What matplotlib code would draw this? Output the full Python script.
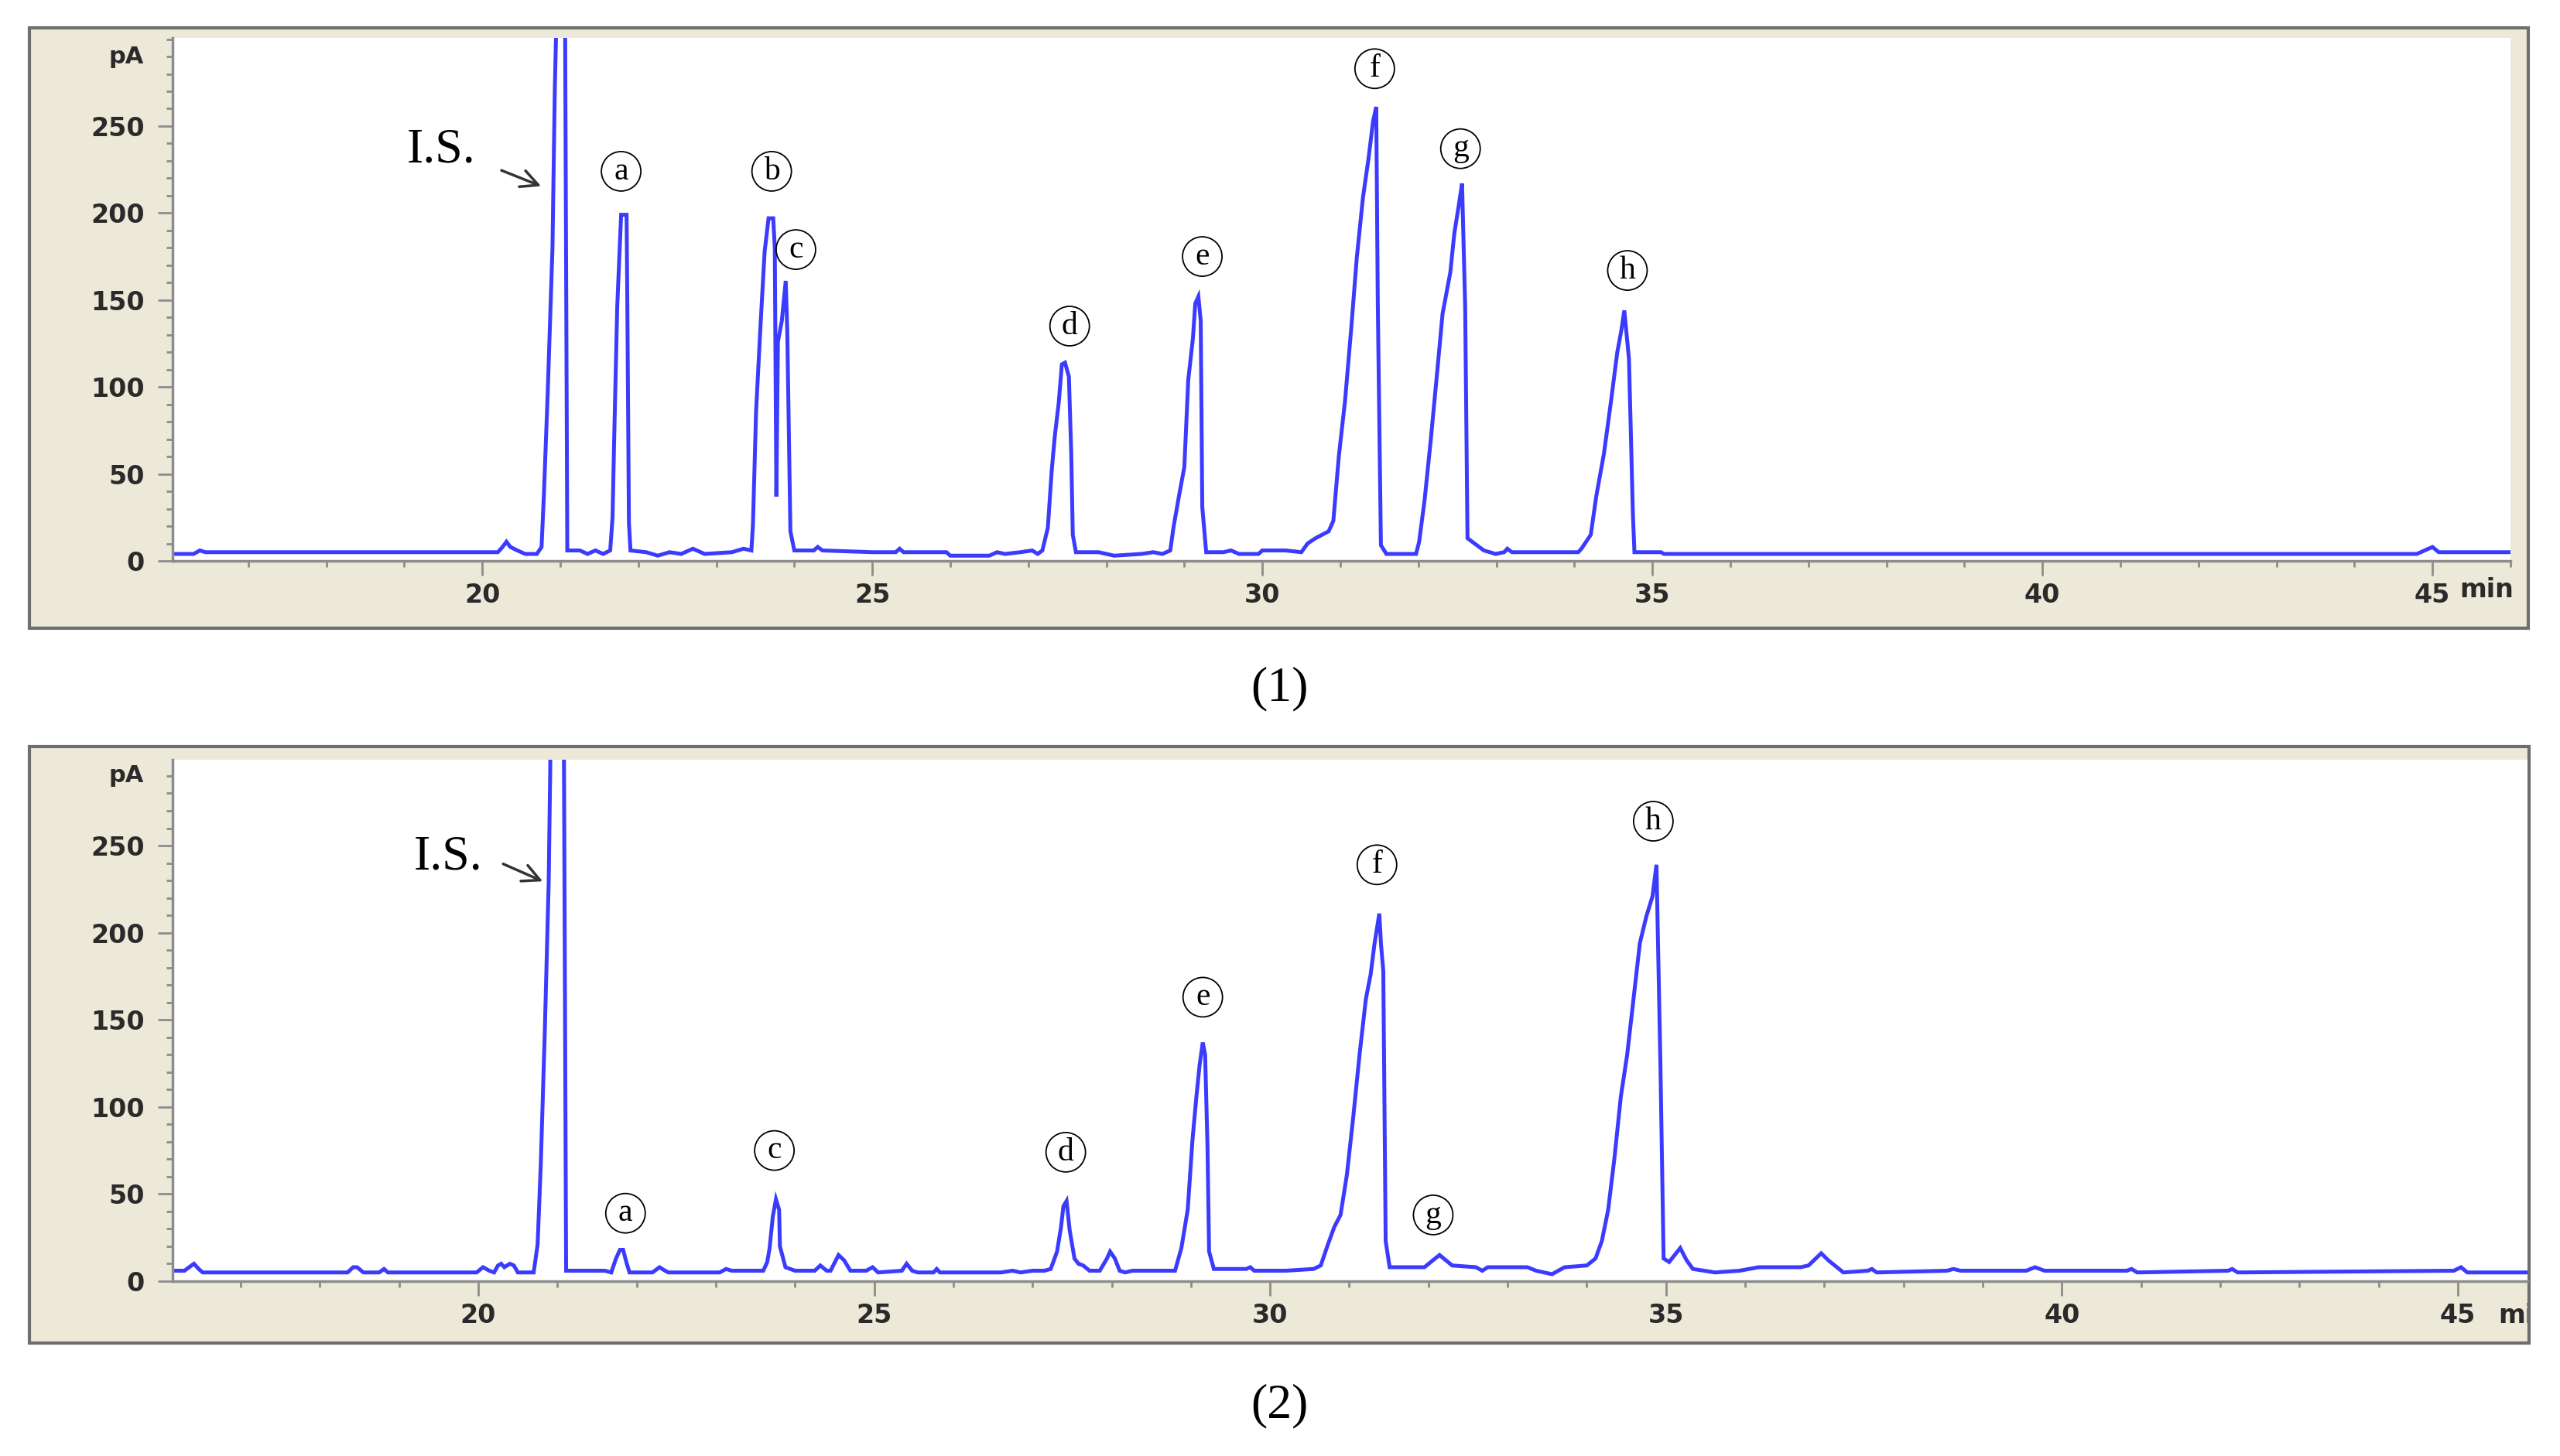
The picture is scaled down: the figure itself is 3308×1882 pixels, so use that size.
"""
Two GC chromatograms (standard mix and sample) redrawn in the instrument style.
"""
import matplotlib.pyplot as plt
from matplotlib.patches import Rectangle
from matplotlib.ticker import MultipleLocator
from matplotlib.transforms import Bbox, TransformedBbox

W, H = 3308, 1882
TRACE = "#3b3bff"
BEIGE = "#ECE9D8"
SERIF = "Liberation Serif"

## Panel (1): retention time (min) and signal (pA)
t1 = [16.03, 16.30, 16.38, 16.45, 17.40, 19.90, 20.20, 20.26, 20.31, 20.36, 20.45, 20.55,
      20.70, 20.76, 20.79, 20.84, 20.90, 20.93, 20.96, 21.06, 21.09, 21.25, 21.35, 21.45,
      21.55, 21.64, 21.67, 21.69, 21.73, 21.78, 21.85, 21.86, 21.88, 21.90, 22.10, 22.25,
      22.40, 22.55, 22.70, 22.85, 23.20, 23.35, 23.45, 23.47, 23.51, 23.57, 23.62, 23.67,
      23.73, 23.75, 23.77, 23.79, 23.84, 23.89, 23.91, 23.95, 24.00, 24.25, 24.30, 24.36,
      25.00, 25.30, 25.35, 25.40, 25.95, 26.00, 26.50, 26.60, 26.70, 26.90, 27.05, 27.12,
      27.18, 27.25, 27.30, 27.34, 27.39, 27.43, 27.47, 27.52, 27.55, 27.57, 27.61, 27.90,
      28.00, 28.10, 28.45, 28.60, 28.72, 28.82, 28.86, 28.93, 29.00, 29.05, 29.11, 29.14,
      29.18, 29.21, 29.23, 29.28, 29.50, 29.60, 29.70, 29.95, 30.00, 30.30, 30.50, 30.58,
      30.68, 30.85, 30.91, 30.98, 31.06, 31.14, 31.21, 31.29, 31.36, 31.42, 31.46, 31.48,
      31.52, 31.59, 31.97, 32.01, 32.08, 32.16, 32.24, 32.31, 32.41, 32.46, 32.52, 32.56,
      32.60, 32.63, 32.69, 32.84, 32.99, 33.10, 33.14, 33.20, 33.60, 34.05, 34.09, 34.21,
      34.28, 34.38, 34.47, 34.55, 34.60, 34.64, 34.70, 34.75, 34.77, 35.11, 35.15, 44.80,
      44.95, 45.00, 45.08, 46.00]
s1 = [4, 4, 6, 5, 5, 5, 5, 8, 11, 8, 6, 4,
      4, 8, 38, 98, 180, 271, 330, 330, 6, 6, 4, 6,
      4, 6, 25, 68, 146, 199, 199, 146, 22, 6, 5, 3,
      5, 4, 7, 4, 5, 7, 6, 21, 86, 138, 178, 197,
      197, 180, 37, 126, 138, 161, 132, 17, 6, 6, 8, 6,
      5, 5, 7, 5, 5, 3, 3, 5, 4, 5, 6, 4,
      6, 19, 52, 72, 91, 113, 114, 106, 62, 15, 5, 5,
      4, 3, 4, 5, 4, 6, 19, 37, 54, 104, 128, 148,
      152, 138, 31, 5, 5, 6, 4, 4, 6, 6, 5, 10,
      13, 17, 23, 60, 92, 134, 174, 209, 231, 253, 261, 148,
      9, 4, 4, 11, 35, 70, 108, 142, 166, 188, 205, 217,
      146, 13, 11, 6, 4, 5, 7, 5, 5, 5, 7, 15,
      37, 62, 92, 120, 132, 144, 116, 27, 5, 5, 4, 4,
      7, 8, 5, 5]

## Panel (2)
t2 = [16.14, 16.29, 16.38, 16.41, 16.47, 16.52, 18.35, 18.42, 18.47, 18.55, 18.75, 18.81,
      18.86, 19.98, 20.06, 20.14, 20.20, 20.25, 20.29, 20.33, 20.40, 20.45, 20.50, 20.70,
      20.75, 20.79, 20.84, 20.89, 20.92, 21.08, 21.11, 21.60, 21.68, 21.74, 21.79, 21.83,
      21.87, 21.91, 22.20, 22.29, 22.36, 22.40, 23.05, 23.13, 23.20, 23.60, 23.65, 23.68,
      23.72, 23.76, 23.80, 23.81, 23.88, 24.00, 24.25, 24.32, 24.40, 24.45, 24.55, 24.62,
      24.70, 24.90, 24.98, 25.05, 25.35, 25.41, 25.48, 25.55, 25.75, 25.79, 25.83, 26.60,
      26.75, 26.85, 27.00, 27.15, 27.23, 27.31, 27.36, 27.39, 27.43, 27.47, 27.53, 27.58,
      27.64, 27.72, 27.85, 27.94, 27.98, 28.04, 28.10, 28.17, 28.26, 28.80, 28.88, 28.96,
      29.02, 29.07, 29.11, 29.15, 29.18, 29.21, 29.23, 29.29, 29.70, 29.75, 29.80, 30.20,
      30.55, 30.64, 30.73, 30.81, 30.89, 30.97, 31.05, 31.13, 31.21, 31.27, 31.32, 31.38,
      31.40, 31.43, 31.46, 31.51, 31.95, 32.03, 32.14, 32.22, 32.30, 32.60, 32.68, 32.75,
      33.25, 33.36, 33.56, 33.72, 34.00, 34.11, 34.19, 34.27, 34.35, 34.43, 34.51, 34.59,
      34.67, 34.75, 34.83, 34.88, 34.93, 34.97, 35.04, 35.18, 35.26, 35.34, 35.62, 35.93,
      36.17, 36.57, 36.70, 36.80, 36.96, 37.05, 37.24, 37.55, 37.60, 37.66, 38.55, 38.63,
      38.72, 39.55, 39.66, 39.78, 40.82, 40.88, 40.95, 42.10, 42.15, 42.22, 44.95, 45.04,
      45.12, 45.88]
s2 = [6, 6, 9, 10, 7, 5, 5, 8, 8, 5, 5, 7,
      5, 5, 8, 6, 5, 9, 10, 8, 10, 9, 5, 5,
      21, 67, 142, 229, 330, 330, 6, 6, 5, 13, 18, 18,
      11, 5, 5, 8, 6, 5, 5, 7, 6, 6, 11, 19,
      37, 47, 41, 20, 8, 6, 6, 9, 6, 6, 15, 12,
      6, 6, 8, 5, 6, 10, 6, 5, 5, 7, 5, 5,
      6, 5, 6, 6, 7, 17, 31, 43, 46, 29, 13, 10,
      9, 6, 6, 13, 17, 13, 6, 5, 6, 6, 19, 41,
      81, 106, 124, 137, 130, 77, 17, 7, 7, 8, 6, 6,
      7, 9, 21, 31, 38, 61, 94, 130, 162, 176, 194, 211,
      194, 178, 23, 8, 8, 11, 15, 12, 9, 8, 6, 8,
      8, 6, 4, 8, 9, 13, 23, 41, 71, 106, 130, 162,
      194, 209, 221, 239, 124, 13, 11, 19, 12, 7, 5, 6,
      8, 8, 8, 9, 16, 12, 5, 6, 7, 5, 6, 7,
      6, 6, 8, 6, 6, 7, 5, 6, 7, 5, 6, 8,
      5, 5]

## Peak labels: letter, retention time, label height
labels1 = ["a", "b", "c", "d", "e", "f", "g", "h"]
lab_t1 = [21.78, 23.71, 24.02, 27.53, 29.23, 31.44, 32.54, 34.68]
lab_v1 = [224, 224, 179, 135, 175, 283, 237, 167]
labels2 = ["a", "c", "d", "e", "f", "g", "h"]
lab_t2 = [21.86, 23.74, 27.42, 29.15, 31.35, 32.06, 34.84]
lab_v2 = [39, 75, 74, 163, 239, 38, 264]

X_TICKS = [20, 25, 30, 35, 40, 45]
Y_TICKS = [0, 50, 100, 150, 200, 250]

TICK_FONT = dict(fontsize=24, fontweight="bold", color="#2a2a2a")


def px_box(x0, y0, x1, y1):
    return [x0 / W, 1 - y1 / H, (x1 - x0) / W, (y1 - y0) / H]


def add_frame(fig, x0, y0, x1, y1):
    l, b, w, h = px_box(x0, y0, x1, y1)
    fig.add_artist(Rectangle((l, b), w, h, transform=fig.transFigure,
                             fc=BEIGE, ec="#6e6e6e", lw=3, zorder=-5))


def style_axes(ax, xlim, ylim):
    ax.set_xlim(xlim)
    ax.set_ylim(ylim)
    ax.set_facecolor("white")
    for side in ("top", "right"):
        ax.spines[side].set_visible(False)
    for side in ("left", "bottom"):
        ax.spines[side].set_color("#8c8c8c")
        ax.spines[side].set_linewidth(2.5)
    ax.set_xticks(X_TICKS)
    ax.set_yticks(Y_TICKS)
    ax.xaxis.set_minor_locator(MultipleLocator(1))
    ax.yaxis.set_minor_locator(MultipleLocator(10))
    ax.tick_params(which="major", length=14, width=2, color="#8c8c8c")
    ax.tick_params(which="minor", length=6, width=2, color="#8c8c8c")
    ax.tick_params(axis="y", pad=12)
    ax.tick_params(axis="x", pad=6)
    for lab in ax.get_xticklabels() + ax.get_yticklabels():
        lab.set_fontsize(TICK_FONT["fontsize"])
        lab.set_fontweight(TICK_FONT["fontweight"])
        lab.set_color(TICK_FONT["color"])
    ax.annotate("pA", xy=(0, 290), xycoords=("axes fraction", "data"),
                xytext=(-27, 0), textcoords="offset points",
                ha="right", va="center", fontsize=22, fontweight="bold",
                color="#2a2a2a")


def draw_panel(ax, t, s, labels, lab_t, lab_v, is_pos, arrow_tail, arrow_head):
    ax.plot(t, s, color=TRACE, lw=3.6, solid_joinstyle="miter")
    for letter, x, y in zip(labels, lab_t, lab_v):
        ax.text(x, y, letter, ha="center", va="center", family=SERIF, fontsize=30,
                bbox=dict(boxstyle="circle,pad=0.15", fc="none", ec="black", lw=1.3))
    ax.text(is_pos[0], is_pos[1], "I.S.", ha="center", va="center",
            family=SERIF, fontsize=46)
    ax.annotate("", xy=arrow_head, xytext=arrow_tail,
                arrowprops=dict(arrowstyle="->", color="#333333", lw=2.5,
                                mutation_scale=40))


def main():
    fig = plt.figure(figsize=(W / 100, H / 100), dpi=100)

    ## Panel (1)
    add_frame(fig, 38, 36, 3267, 812)
    ax1 = fig.add_axes(px_box(223, 49, 3244, 725))
    style_axes(ax1, (16.03, 46.0), (0, 300.7))
    draw_panel(ax1, t1, s1, labels1, lab_t1, lab_v1,
               (19.47, 236), (20.22, 225), (20.78, 215))
    fig.text(3178 / W, 1 - 762 / H, "min", ha="left", va="center", **TICK_FONT)
    fig.text(1653 / W, 1 - 890 / H, "(1)", ha="center", va="center",
             family=SERIF, fontsize=46)

    ## Panel (2)
    add_frame(fig, 38, 965, 3268, 1736)
    ax2 = fig.add_axes(px_box(223, 982, 3266, 1656))
    style_axes(ax2, (16.14, 45.88), (0, 299.3))
    draw_panel(ax2, t2, s2, labels2, lab_t2, lab_v2,
               (19.62, 243), (20.29, 240), (20.84, 229))
    mi = fig.text(3228 / W, 1 - 1700 / H, "min", ha="left", va="center", **TICK_FONT)
    mi.set_clip_box(TransformedBbox(Bbox.from_extents(0, 0, 3266 / W, 1), fig.transFigure))
    fig.text(1653 / W, 1 - 1817 / H, "(2)", ha="center", va="center",
             family=SERIF, fontsize=46)

    fig.savefig("out.png", dpi=100, facecolor="white")
    plt.close(fig)


if __name__ == "__main__":
    main()
